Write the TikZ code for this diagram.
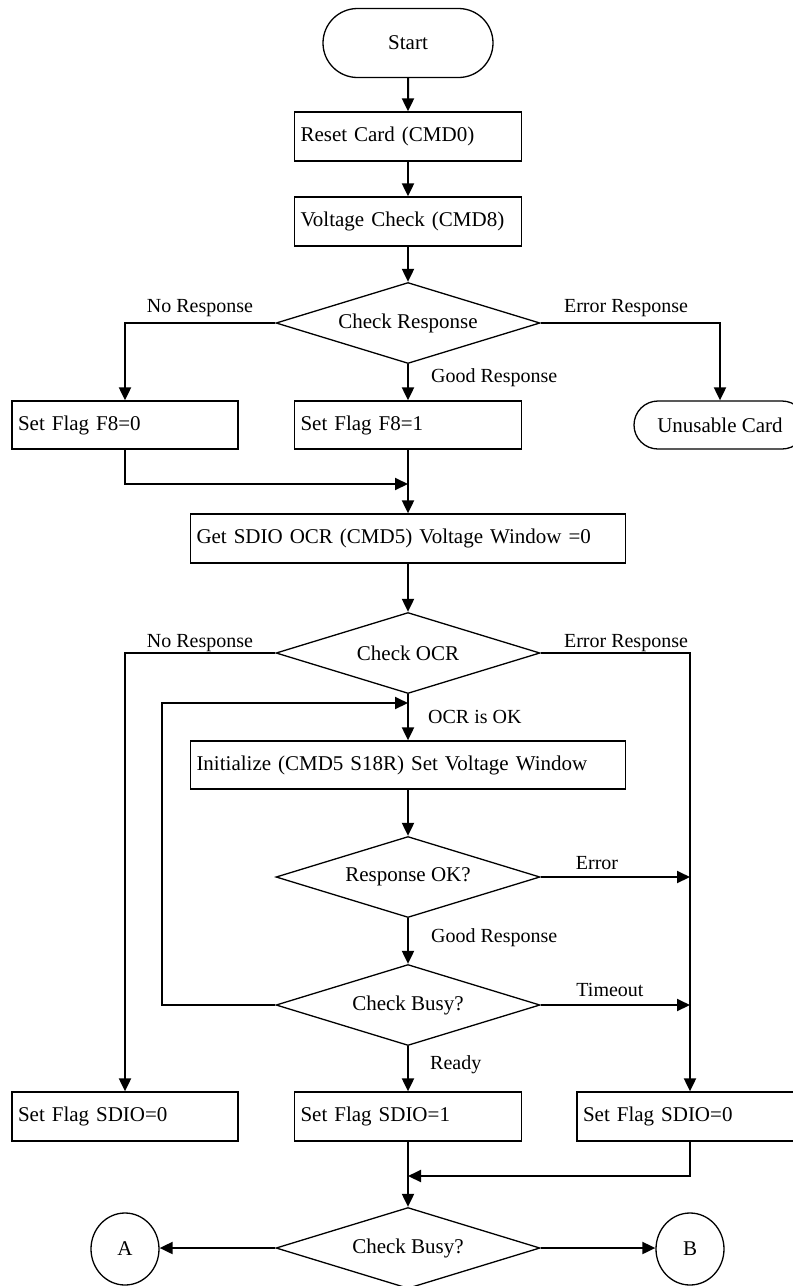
\documentclass[tikz,border=0pt]{standalone}
\usepackage{fontspec}
\setmainfont{Liberation Serif}
\usetikzlibrary{shapes.geometric,shapes.misc,arrows.meta}

\begin{document}
\begin{tikzpicture}[x=1pt,y=-1pt,
  every node/.style={font=\fontsize{21pt}{25pt}\selectfont},
  proc/.style={draw, line width=1.3pt, rectangle, minimum height=49pt,
    inner xsep=6pt, inner ysep=0pt, text width=#1, align=left},
  term/.style={draw, line width=1.3pt, rounded rectangle, minimum width=#1,
    minimum height=49pt, inner sep=0pt},
  decide/.style={draw, line width=1.3pt, diamond, aspect=3.26,
    minimum width=264pt, minimum height=81pt, inner sep=0pt},
  conn/.style={draw, ellipse, line width=1.3pt, minimum width=68pt,
    minimum height=72pt, inner sep=0pt},
  flow/.style={line width=2pt, -{Triangle[length=13pt,width=12pt]}},
  lbl/.style={font=\fontsize{20pt}{24pt}\selectfont, inner sep=0pt}
]
\useasboundingbox (0,0) rectangle (793,1286);
\clip (0,0) rectangle (793,1286);

% main column
\node[term=170pt, minimum height=69pt] (start) at (408,43) {Start};
\node[proc=215pt] (reset) at (408,136.5) {Reset Card (CMD0)};
\node[proc=215pt] (volt) at (408,221.5) {Voltage Check (CMD8)};
\node[decide] (chkresp) at (408,323) {Check Response};
\node[proc=214pt, minimum height=48pt] (f8zero) at (125,425) {Set Flag F8=0};
\node[proc=215pt, minimum height=48pt] (f8one) at (408,425) {Set Flag F8=1};
\node[term=172pt, minimum height=48pt] (unusable) at (720,425) {Unusable Card};
\node[proc=423pt] (getocr) at (408,538.5) {Get SDIO OCR (CMD5) Voltage Window =0};
\node[decide] (chkocr) at (408,653) {Check OCR};
\node[proc=423pt, minimum height=48pt] (init) at (408,765) {Initialize (CMD5 S18R) Set Voltage Window};
\node[decide] (respok) at (408,877) {Response OK?};
\node[decide] (busy) at (408,1005) {Check Busy?};
\node[proc=214pt] (sdiozl) at (125,1116.5) {Set Flag SDIO=0};
\node[proc=215pt] (sdioone) at (408,1116.5) {Set Flag SDIO=1};
\node[proc=214pt] (sdiozr) at (690,1116.5) {Set Flag SDIO=0};
\node[decide] (busyb) at (408,1248) {Check Busy?};
\node[conn] (A) at (125,1249) {A};
\node[conn] (B) at (690,1249) {B};

% junction points
\coordinate (j1) at (408,484);
\coordinate (j2) at (408,703);
\coordinate (j3) at (408,1176);
\coordinate (loopcol) at (162,703);

% connectors
\draw[flow] (start) -- (reset);
\draw[flow] (reset) -- (volt);
\draw[flow] (volt) -- (chkresp);
\draw[flow] (chkresp.west) -| (f8zero.north);
\draw[flow] (chkresp.east) -| (unusable.north);
\draw[flow] (chkresp.south) -- (f8one.north);
\draw[flow] (f8zero.south) |- (j1);
\draw[flow] (f8one.south) -- (getocr.north);
\draw[flow] (getocr) -- (chkocr);
\draw[flow] (chkocr.south) -- (init.north);
\draw[flow] (init) -- (respok);
\draw[flow] (respok) -- (busy);
\draw[flow] (busy.south) -- (sdioone.north);
\draw[flow] (chkocr.west) -| (sdiozl.north);
\draw[flow] (chkocr.east) -| (sdiozr.north);
\draw[flow] (respok.east) -- (respok.east -| sdiozr.north);
\draw[flow] (busy.east) -- (busy.east -| sdiozr.north);
\draw[flow] (busy.west) -| (loopcol) -- (j2);
\draw[flow] (sdioone.south) -- (busyb.north);
\draw[flow] (sdiozr.south) |- (j3);
\draw[flow] (busyb.west) -- (busyb.west -| A.east);
\draw[flow] (busyb.east) -- (busyb.east -| B.west);

% branch labels
\node[lbl] (lnr1) at (200,308) {No Response};
\node[lbl] (ler1) at (626,308) {Error Response};
\node[lbl, anchor=west] (lgr1) at (431,378) {Good Response};
\node[lbl] (lnr2) at (200,643) {No Response};
\node[lbl] (ler2) at (626,643) {Error Response};
\node[lbl, anchor=west] (lok) at (428,717) {OCR is OK};
\node[lbl] (lerr) at (597,863) {Error};
\node[lbl, anchor=west] (lgr2) at (431,938) {Good Response};
\node[lbl] (ltime) at (610,990) {Timeout};
\node[lbl, anchor=west] (lready) at (430,1065) {Ready};
\end{tikzpicture}
\end{document}
